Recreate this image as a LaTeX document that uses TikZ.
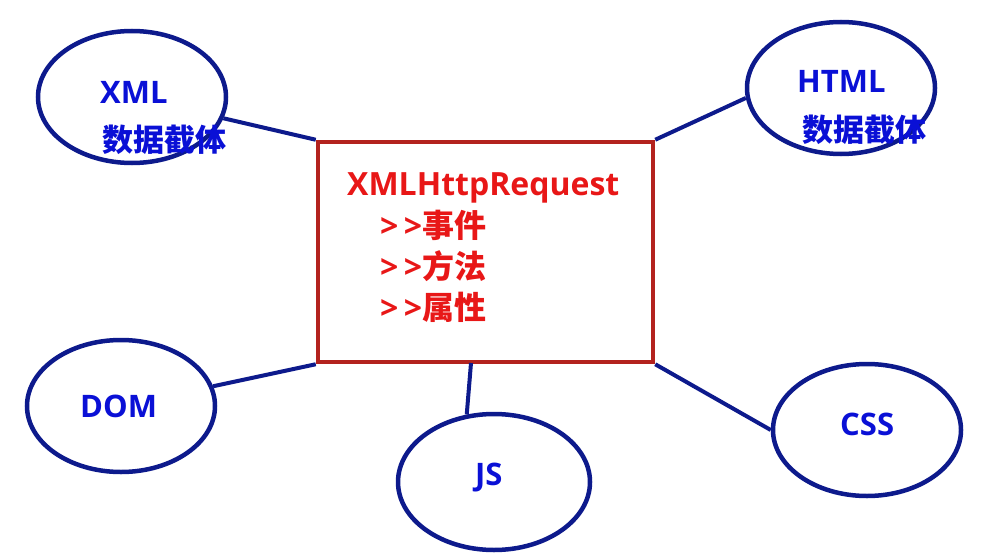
\documentclass[tikz,border=0pt]{standalone}
\usepackage{fontspec}
\setmainfont{Open Sans}
\newfontfamily\cjk{Noto Sans CJK SC}
\usetikzlibrary{shapes.geometric}
\definecolor{navy}{HTML}{0D1A8C}
\definecolor{labelblue}{HTML}{0A10D6}
\definecolor{boxred}{HTML}{B3221E}
\definecolor{textred}{HTML}{E81717}
\tikzset{
  bubble/.style={draw=navy, line width=4.5pt, ellipse, minimum width=188pt, minimum height=132pt, inner sep=0pt},
  blabel/.style={text=labelblue, font=\fontsize{31}{36}\selectfont\bfseries, anchor=base west, inner sep=0pt},
  rlabel/.style={text=textred, font=\fontsize{32}{40}\selectfont\bfseries, anchor=base west, inner sep=0pt},
  link/.style={draw=navy, line width=4pt}
}
\begin{document}
\begin{tikzpicture}[x=1pt,y=-1pt]
      \useasboundingbox (0,0) rectangle (984,559);
      % the request box
      \node[draw=boxred, line width=4.5pt, minimum width=335pt, minimum height=220pt, inner sep=0pt] (req) at (485.5,252) {};
      \node[rlabel] (title) at (347,195) {XMLHttpRequest};
      \node[rlabel] (events) at (380,237) {{>}\,{>}\cjk 事件};
      \node[rlabel] (methods) at (380,278) {{>}\,{>}\cjk 方法};
      \node[rlabel] (props) at (380,319) {{>}\,{>}\cjk 属性};
      % the bubbles round it
      \draw
        (132,97) node[bubble] (xml){}
        (841,88) node[bubble] (html){}
        (121,406) node[bubble] (dom){}
        (494,482) node[bubble, minimum width=192pt, minimum height=136pt] (js){}
        (867,430) node[bubble] (css){};
      \node[blabel] (xmlname) at (100,103) {XML};
      \node[blabel] (xmlnote) at (102,151) {\cjk 数据截体};
      \node[blabel] (htmlname) at (797,93) {HTML};
      \node[blabel] (htmlnote) at (802,141) {\cjk 数据截体};
      \node[blabel] (domname) at (80,417) {DOM};
      \node[blabel] (jsname) at (475,485) {JS};
      \node[blabel] (cssname) at (840,435) {CSS};
      \coordinate (jstop) at (471,363);
      \begin{scope}[link]
        \draw (xml) to (req.north west);
        \draw (html.186) to (req.north east);
        \draw (dom) to (req.south west);
        \draw (js.112) to (jstop);
        \draw (css.west) to (req.south east);
      \end{scope}
    \end{tikzpicture}
\end{document}
